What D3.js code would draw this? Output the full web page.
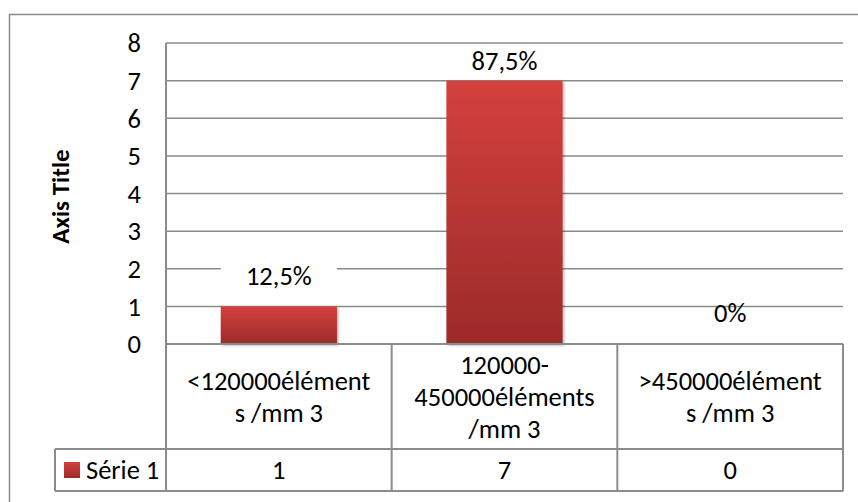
<!DOCTYPE html>
<html>
<head>
<meta charset="utf-8">
<script src="https://cdn.jsdelivr.net/npm/d3@7"></script>
<style>
  body { margin: 0; background: #fff; }
  svg text { font-family: Carlito, Calibri, Lato, sans-serif; fill: #000; }
</style>
</head>
<body>
<div id="chart"></div>
<script>
// data
const categories = ["<120000élément\ns /mm 3", "120000-\n450000éléments\n/mm 3", ">450000élément\ns /mm 3"];
const values = [1, 7, 0];
const labels = ["12,5%", "87,5%", "0%"];
const seriesName = "Série 1";
const yTicks = [0, 1, 2, 3, 4, 5, 6, 7, 8];
const yTitle = "Axis Title";

const W = 858, H = 502;
const plot = {left: 166, right: 843, top: 43, bottom: 344};
const catRowBottom = 449, valRowBottom = 491, legendLeft = 55;
const fs = 26.5;

const svg = d3.select("#chart").append("svg")
    .attr("width", W).attr("height", H);

const defs = svg.append("defs");
const grad = defs.append("linearGradient").attr("id", "barGrad")
    .attr("x1", 0).attr("y1", 0).attr("x2", 0).attr("y2", 1);
grad.append("stop").attr("offset", "0%").attr("stop-color", "#d3403d");
grad.append("stop").attr("offset", "100%").attr("stop-color", "#9c2b29");

const shadow = defs.append("filter").attr("id", "shadow")
    .attr("x", "-10%").attr("y", "-10%").attr("width", "130%").attr("height", "130%");
shadow.append("feDropShadow").attr("dx", 1.5).attr("dy", 1.5).attr("stdDeviation", 1.2)
    .attr("flood-color", "#000").attr("flood-opacity", 0.3);

// outer frame
svg.append("rect").attr("x", 9.5).attr("y", 14.5).attr("width", 870).attr("height", 510)
    .attr("fill", "none").attr("stroke", "#8c8c8c").attr("stroke-width", 1.5);

const x = d3.scaleBand().domain(d3.range(categories.length))
    .range([plot.left, plot.right]).paddingInner(0).paddingOuter(0);
const y = d3.scaleLinear().domain([0, 8]).range([plot.bottom, plot.top]);
const barW = x.bandwidth() * 0.515;

// gridlines
svg.append("g").selectAll("line").data(yTicks.slice(1)).enter().append("line")
    .attr("x1", plot.left).attr("x2", plot.right)
    .attr("y1", d => y(d)).attr("y2", d => y(d))
    .attr("stroke", "#8a8a8a").attr("stroke-width", 1.5);

// tick labels
svg.append("g").selectAll("text").data(yTicks).enter().append("text")
    .attr("x", 141).attr("y", d => y(d))
    .attr("dy", "0.35em").attr("text-anchor", "end")
    .style("font-size", fs + "px")
    .text(d => d);

// axis title
svg.append("text")
    .attr("transform", `translate(69,${(plot.top + plot.bottom) / 2 + 3}) rotate(-90)`)
    .attr("text-anchor", "middle")
    .style("font-size", "25px").style("font-weight", "bold")
    .text(yTitle);

// bars
svg.append("g").selectAll("rect").data(values).enter().append("rect")
    .attr("x", (d, i) => x(i) + (x.bandwidth() - barW) / 2)
    .attr("y", d => y(d))
    .attr("width", barW)
    .attr("height", d => y(0) - y(d))
    .attr("fill", "url(#barGrad)")
    .attr("filter", "url(#shadow)");

// data labels, white box behind non-zero ones
const lab = svg.append("g").selectAll("g").data(values).enter().append("g")
    .attr("transform", (d, i) => {
        const cy = Math.max(y(d) - 31, y(8) + 18);
        return `translate(${x(i) + x.bandwidth() / 2},${cy})`;
    });
lab.filter(d => d > 0).append("rect")
    .attr("x", -barW / 2).attr("y", -13).attr("width", barW).attr("height", 22)
    .attr("fill", "#fff");
lab.append("text")
    .attr("text-anchor", "middle").attr("dy", "0.35em")
    .style("font-size", fs + "px")
    .text((d, i) => labels[i]);

// data table
const tbl = svg.append("g").attr("stroke", "#8c8c8c").attr("stroke-width", 2);
tbl.append("line").attr("x1", plot.left).attr("x2", plot.left).attr("y1", plot.top).attr("y2", valRowBottom);
tbl.append("line").attr("x1", plot.left).attr("x2", plot.right).attr("y1", plot.bottom).attr("y2", plot.bottom);
tbl.append("line").attr("x1", legendLeft).attr("x2", plot.right).attr("y1", catRowBottom).attr("y2", catRowBottom);
tbl.append("line").attr("x1", legendLeft).attr("x2", plot.right).attr("y1", valRowBottom).attr("y2", valRowBottom);
tbl.append("line").attr("x1", legendLeft).attr("x2", legendLeft).attr("y1", catRowBottom).attr("y2", valRowBottom);
tbl.selectAll("line.col").data(d3.range(1, categories.length + 1)).enter().append("line")
    .attr("class", "col")
    .attr("x1", i => x(i - 1) + x.bandwidth()).attr("x2", i => x(i - 1) + x.bandwidth())
    .attr("y1", plot.bottom).attr("y2", valRowBottom);

// category texts
const lineH = 32;
svg.append("g").selectAll("text").data(categories).enter().append("text")
    .attr("text-anchor", "middle")
    .style("font-size", fs + "px")
    .each(function(d, i) {
        const lines = d.split("\n");
        const mid = (plot.bottom + catRowBottom) / 2;
        const t = d3.select(this);
        lines.forEach((ln, k) => {
            t.append("tspan")
                .attr("x", x(i) + x.bandwidth() / 2)
                .attr("y", mid + (k - (lines.length - 1) / 2) * lineH)
                .attr("dy", "0.35em")
                .text(ln);
        });
    });

// value row
svg.append("g").selectAll("text").data(values).enter().append("text")
    .attr("x", (d, i) => x(i) + x.bandwidth() / 2)
    .attr("y", (catRowBottom + valRowBottom) / 2)
    .attr("dy", "0.35em").attr("text-anchor", "middle")
    .style("font-size", fs + "px")
    .text(d => d);

// legend key
svg.append("rect").attr("x", 64).attr("y", 462).attr("width", 16).attr("height", 16)
    .attr("fill", "url(#barGrad)");
svg.append("text").attr("x", 86).attr("y", (catRowBottom + valRowBottom) / 2)
    .attr("dy", "0.35em")
    .style("font-size", fs + "px")
    .text(seriesName);
</script>
</body>
</html>
